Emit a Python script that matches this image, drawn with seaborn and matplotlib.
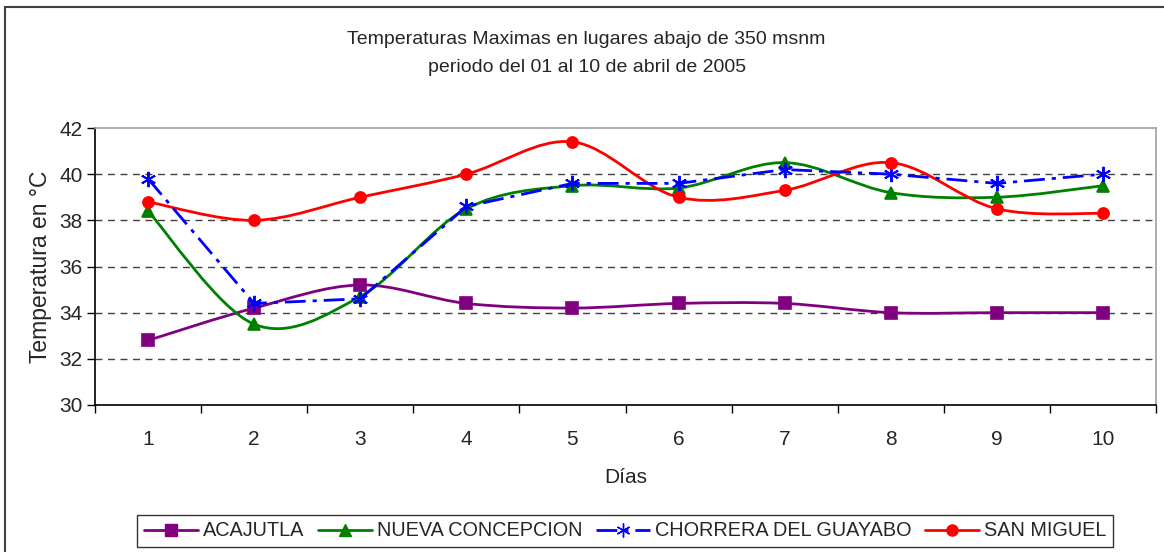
import numpy as np
import pandas as pd
import matplotlib
matplotlib.use("Agg")
import matplotlib.pyplot as plt
import seaborn as sns
from matplotlib.path import Path
from matplotlib.patches import PathPatch, Rectangle
from matplotlib.lines import Line2D

dias = list(range(1, 11))
acajutla = [32.8, 34.2, 35.2, 34.4, 34.2, 34.4, 34.4, 34.0, 34.0, 34.0]
nueva_concepcion = [38.4, 33.5, 34.7, 38.5, 39.5, 39.4, 40.5, 39.2, 39.0, 39.5]
chorrera = [39.8, 34.4, 34.6, 38.6, 39.6, 39.6, 40.2, 40.0, 39.6, 40.0]
san_miguel = [38.8, 38.0, 39.0, 40.0, 41.4, 39.0, 39.3, 40.5, 38.5, 38.3]

series = {
    "ACAJUTLA": acajutla,
    "NUEVA CONCEPCION": nueva_concepcion,
    "CHORRERA DEL GUAYABO": chorrera,
    "SAN MIGUEL": san_miguel,
}
colores = {
    "ACAJUTLA": "#800080",
    "NUEVA CONCEPCION": "#008000",
    "CHORRERA DEL GUAYABO": "#0000FF",
    "SAN MIGUEL": "#FF0000",
}
marcadores = {
    "ACAJUTLA": "s",
    "NUEVA CONCEPCION": "^",
    "CHORRERA DEL GUAYABO": (6, 2, 0),
    "SAN MIGUEL": "o",
}
suavizada = {"ACAJUTLA": True, "NUEVA CONCEPCION": True,
             "CHORRERA DEL GUAYABO": False, "SAN MIGUEL": True}
DASHDOT = (0, (7.5, 2.5, 1.5, 2.5))


def curva_suave(x, y):
    # bezier a la Excel (catmull-rom con tension 1/6)
    x = np.asarray(x, float)
    y = np.asarray(y, float)
    n = len(x)
    verts = [(x[0], y[0])]
    codes = [Path.MOVETO]
    for i in range(n - 1):
        i0 = max(i - 1, 0)
        i3 = min(i + 2, n - 1)
        c1 = (x[i] + (x[i + 1] - x[i0]) / 6, y[i] + (y[i + 1] - y[i0]) / 6)
        c2 = (x[i + 1] - (x[i3] - x[i]) / 6, y[i + 1] - (y[i3] - y[i]) / 6)
        verts += [c1, c2, (x[i + 1], y[i + 1])]
        codes += [Path.CURVE4] * 3
    return Path(verts, codes)


sns.set_style("white")
plt.rcParams["font.family"] = ["Liberation Sans", "DejaVu Sans"]

fig = plt.figure(figsize=(11.64, 5.52), dpi=100)
ax = fig.add_axes([95 / 1164, 1 - 405 / 552, (1156 - 95) / 1164, (405 - 128) / 552])

df = pd.DataFrame(series, index=dias).reset_index(names="dia")
largo = df.melt(id_vars="dia", var_name="lugar", value_name="temp")

for nombre in series:
    d = largo[largo["lugar"] == nombre]
    if suavizada[nombre]:
        ax.add_patch(PathPatch(curva_suave(d["dia"], d["temp"]), fill=False,
                               edgecolor=colores[nombre], lw=2.0, zorder=3))
        sns.lineplot(data=d, x="dia", y="temp", ax=ax, color=colores[nombre],
                     marker=marcadores[nombre], markersize=8, linestyle="",
                     markeredgewidth=1.2, markeredgecolor=colores[nombre], zorder=4)
    else:
        sns.lineplot(data=d, x="dia", y="temp", ax=ax, color=colores[nombre],
                     marker=marcadores[nombre], markersize=11, lw=2.0,
                     markeredgewidth=1.4, markeredgecolor=colores[nombre],
                     linestyle=DASHDOT, zorder=4)

ax.set_xlim(0.5, 10.5)
ax.set_ylim(30, 42)
ax.set_xticks(dias)
ax.set_xticks(np.arange(0.5, 11, 1), minor=True)
ax.set_yticks(range(30, 43, 2))
ax.tick_params(axis="x", which="major", length=0, labelsize=15, pad=18)
ax.tick_params(axis="x", which="minor", length=6, width=1, color="black", direction="out", bottom=True)
ax.tick_params(axis="y", length=6, width=1, color="black", direction="out", left=True, labelsize=15, pad=3)
for yv in range(32, 42, 2):
    ax.axhline(yv, color="#404040", lw=1.0, ls=(0, (5, 4)), zorder=1)

ax.spines["left"].set_color("black")
ax.spines["bottom"].set_color("black")
ax.spines["top"].set_color("#a0a0a0")
ax.spines["right"].set_color("#a0a0a0")
for s in ax.spines.values():
    s.set_linewidth(1.2)

ax.set_xlabel("Días", fontsize=15, labelpad=14)
ax.set_ylabel("Temperatura en °C", fontsize=16.5, labelpad=5)

fig.text(0.504, 1 - 40 / 552, "Temperaturas Maximas en lugares abajo de 350 msnm",
         ha="center", va="center", fontsize=14)
fig.text(0.504, 1 - 67 / 552, "periodo del 01 al 10 de abril de 2005",
         ha="center", va="center", fontsize=14)

handles = []
for nombre in series:
    ls = DASHDOT if not suavizada[nombre] else "-"
    handles.append(Line2D([0], [0], color=colores[nombre], lw=2.0, ls=ls,
                          marker=marcadores[nombre], markersize=8 if suavizada[nombre] else 10,
                          markeredgecolor=colores[nombre]))
leg = fig.legend(handles, list(series), loc="center", bbox_to_anchor=(625 / 1164, 1 - 531 / 552),
                 ncol=4, fontsize=14.3, frameon=True, fancybox=False, handlelength=2.7,
                 handletextpad=0.25, columnspacing=0.7, borderpad=0.35)
leg.get_frame().set_edgecolor("black")
leg.get_frame().set_linewidth(1.0)

fig.patches.append(Rectangle((5 / 1164, -0.05), 1.2, 1.05 - 7.5 / 552, transform=fig.transFigure,
                             fill=False, edgecolor="#404040", lw=1.5))

fig.savefig("out.png", dpi=100)
